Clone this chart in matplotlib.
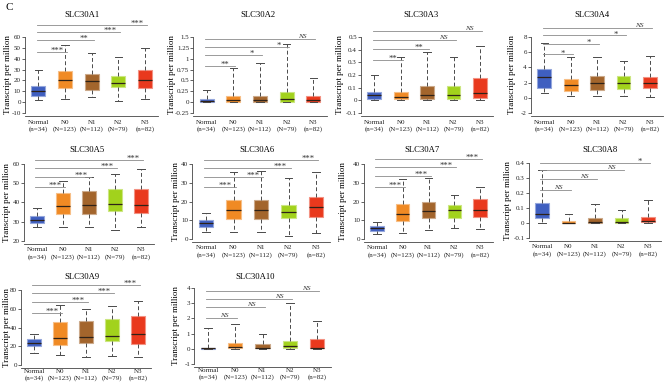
import matplotlib
matplotlib.use("Agg")
import matplotlib.pyplot as plt
from matplotlib.colors import to_rgb

plt.rcParams["font.family"] = ["Liberation Serif", "DejaVu Serif"]

W, H = 668, 385

groups = ["Normal", "N0", "N1", "N2", "N3"]
group_n = ["(n=34)", "(N=123)", "(N=112)", "(N=79)", "(n=82)"]
box_colors = ["#3f5fc0", "#f08a24", "#a3652c", "#a2d21c", "#e9391d"]

genes = ["SLC30A1", "SLC30A2", "SLC30A3", "SLC30A4", "SLC30A5",
         "SLC30A6", "SLC30A7", "SLC30A8", "SLC30A9", "SLC30A10"]

# (whisker low, q1, median, q3, whisker high) for Normal, N0, N1, N2, N3
a1_stats = [(2, 6, 10, 14.5, 30), (3, 13, 20.5, 28.5, 52.5), (4.5, 11.5, 19.5, 26, 45.5),
            (1.5, 13.5, 17.5, 24.5, 41.5), (2.5, 13, 20.5, 29.5, 50)]
a2_stats = [(0, 0.01, 0.02, 0.07, 0.29), (0, 0.01, 0.04, 0.15, 0.79), (0, 0.01, 0.06, 0.14, 0.9),
            (0, 0.01, 0.08, 0.23, 1.34), (0, 0.01, 0.04, 0.14, 0.56)]
a3_stats = [(0, 0.008, 0.045, 0.065, 0.2), (0, 0.01, 0.03, 0.065, 0.34), (0, 0.01, 0.045, 0.115, 0.38),
            (0, 0.01, 0.045, 0.115, 0.34), (0, 0.02, 0.06, 0.18, 0.43)]
a4_stats = [(0.6, 1.3, 2.8, 3.8, 7.2), (0.2, 0.9, 1.7, 2.5, 5.4), (0.2, 1.0, 1.9, 2.9, 5.4),
            (0.3, 1.1, 1.9, 2.9, 4.9), (0.1, 1.3, 2.0, 2.8, 5.5)]
a5_stats = [(27.2, 29.5, 30.7, 32.8, 37.2), (27.2, 34.2, 38.2, 45, 51), (27.2, 34.2, 38.6, 46, 53.4),
            (25.7, 35.8, 39, 47, 55), (27.4, 34.6, 38.6, 47, 57.5)]
a6_stats = [(4, 6.5, 8.3, 10.3, 14), (4, 10.5, 15.5, 21, 36), (3.5, 10.5, 15.6, 21, 36.5),
            (1.5, 11.2, 14.5, 18, 32.5), (3, 11.5, 17, 22.5, 35.5)]
a7_stats = [(2.8, 4.5, 5.8, 6.8, 9.3), (3, 9.5, 13.5, 18.5, 32), (5, 11, 15, 19.8, 32.8),
            (6, 11.2, 15.5, 18, 23.5), (5.3, 11.8, 15.5, 21.5, 28)]
a8_stats = [(0, 0.032, 0.06, 0.135, 0.355), (0, 0.0, 0.003, 0.012, 0.06), (0, 0.002, 0.01, 0.035, 0.125),
            (0, 0.002, 0.01, 0.033, 0.09), (0, 0.004, 0.012, 0.04, 0.155)]
a9_stats = [(13, 20.5, 23.5, 28, 33.5), (10.5, 21.3, 29, 46, 64), (9, 23, 29.8, 47, 60),
            (9.5, 25.5, 30.8, 49, 62.5), (8.2, 22.4, 33.5, 52, 68)]
a10_stats = [(0, 0, 0.02, 0.05, 1.4), (0, 0.02, 0.15, 0.4, 1.62), (0, 0.02, 0.08, 0.32, 0.96),
             (0, 0.02, 0.2, 0.52, 3.0), (0, 0.02, 0.08, 0.62, 1.82)]
all_stats = [a1_stats, a2_stats, a3_stats, a4_stats, a5_stats,
             a6_stats, a7_stats, a8_stats, a9_stats, a10_stats]

# significance brackets Normal vs N0..N3: height and label
sig_y = [[46, 57, 64.5, 71.5], [0.84, 1.08, 1.27, 1.45], [0.316, 0.408, 0.479, 0.545],
         [5.7, 7.1, 8.2, 9.2], [48.3, 53.4, 57.8, 62], [28, 33.3, 37.7, 42.1],
         [28, 33.6, 38.2, 42.7], [0.222, 0.296, 0.351, 0.4], [56, 67.5, 76.5, 85.3],
         [2.02, 2.74, 3.3, 3.82]]
sig_txt = [["***", "**", "***", "***"], ["**", "*", "*", "NS"], ["**", "**", "NS", "NS"],
           ["*", "*", "*", "NS"], ["***", "***", "***", "***"], ["***", "***", "***", "***"],
           ["***", "***", "***", "***"], ["NS", "NS", "NS", "*"], ["***", "***", "***", "***"],
           ["NS", "NS", "NS", "NS"]]

y_ticks = [[-10, 0, 10, 20, 30, 40, 50, 60], [-0.25, 0, 0.25, 0.5, 0.75, 1, 1.25, 1.5],
           [-0.1, 0, 0.1, 0.2, 0.3, 0.4, 0.5], [-2, 0, 2, 4, 6, 8], [20, 30, 40, 50, 60],
           [0, 10, 20, 30, 40], [0, 10, 20, 30, 40], [-0.1, 0, 0.1, 0.2, 0.3, 0.4],
           [0, 20, 40, 60, 80], [-1, 0, 1, 2, 3, 4]]

# layout in pixels: Normal centre x, N3 centre x, top tick y, bottom tick y
panel_px = [(38.3, 145, 37, 113), (206.7, 313.3, 37, 113), (374.3, 480, 37, 113), (544.3, 650, 37, 113),
            (37, 141, 164, 241), (206, 316, 164, 239), (377, 480, 164, 239), (542, 648, 163, 238),
            (34, 138, 290, 365), (208, 317, 288, 364)]
title_px = [(82, 15), (258, 15), (421, 15), (592, 15), (87, 150),
            (257, 150), (422, 150), (600, 150), (82, 277), (255, 277)]
ylabel_x = [8, 172, 340, 512, 7, 176, 343, 508, 7, 176]
xlabel_pad = [3, 3, 3, 3, 2.5, 2.5, 2.5, 2.5, 1, 1]


def lighten(c, f=0.45):
    r, g, b = to_rgb(c)
    return (r + (1 - r) * f, g + (1 - g) * f, b + (1 - b) * f)


def draw_panel(fig, i):
    nc, n3, top, bot = panel_px[i]
    ticks = y_ticks[i]
    sp = (n3 - nc) / 4
    left = nc - 0.5 * sp
    right = n3 + 0.5 * sp
    ppu = (bot - top) / (ticks[-1] - ticks[0])
    gap = 3
    ax = fig.add_axes([left / W, 1 - (bot + gap) / H, (right - left) / W, (bot + gap - top) / H])
    ax.set_xlim(-0.5, 4.5)
    ax.set_ylim(ticks[0] - gap / ppu, ticks[-1])

    stats = [dict(whislo=s[0], q1=s[1], med=s[2], q3=s[3], whishi=s[4], fliers=[])
             for s in all_stats[i]]
    bp = ax.bxp(stats, positions=range(5), widths=0.52, capwidths=0.28, patch_artist=True,
                showfliers=False,
                whiskerprops=dict(color="#4a4a4a", lw=0.7, linestyle=(0, (4, 2.5))),
                capprops=dict(color="#4a4a4a", lw=0.7),
                medianprops=dict(color="#2e2218", lw=0.9))
    for patch, c in zip(bp["boxes"], box_colors):
        patch.set_facecolor(c)
        patch.set_edgecolor(lighten(c))
        patch.set_linewidth(0.8)

    # significance lines
    for k, (yv, t) in enumerate(zip(sig_y[i], sig_txt[i])):
        tgt = k + 1
        ax.plot([-0.06, tgt + 0.08], [yv, yv], color="#8a8a8a", lw=0.6, clip_on=False)
        if t == "NS":
            ax.text(tgt - 0.4, yv, t, ha="center", va="bottom", fontsize=5.2,
                    color="#333333", style="italic")
        else:
            ax.text(tgt - 0.3, yv - 0.04 * (ticks[-1] - ticks[0]), t, ha="center",
                    va="bottom", fontsize=6.2, color="#333333")

    ax.set_yticks(ticks)
    ax.set_yticklabels([f"{v:g}" for v in ticks])
    ax.set_xticks(range(5))
    ax.set_xticklabels([f"{g}\n{n}" for g, n in zip(groups, group_n)], linespacing=1.3)
    ax.tick_params(axis="y", labelsize=5, length=2, width=0.5, pad=1, colors="#222222")
    ax.tick_params(axis="x", labelsize=5, length=0, pad=xlabel_pad[i], colors="#222222")
    for s in ["top", "right"]:
        ax.spines[s].set_visible(False)
    ax.spines["left"].set_bounds(ticks[0], ticks[-1])
    for s in ["left", "bottom"]:
        ax.spines[s].set_linewidth(0.6)
        ax.spines[s].set_color("#444444")

    tx, ty = title_px[i]
    fig.text(tx / W, 1 - ty / H, genes[i], ha="center", va="center", fontsize=6.2)
    fig.text(ylabel_x[i] / W, 1 - (top + bot) / 2 / H, "Transcript per million",
             rotation=90, ha="center", va="center", fontsize=6.5)
    return ax


def main():
    fig = plt.figure(figsize=(W / 100, H / 100), dpi=100)
    fig.text(5 / W, 1 - 7 / H, "C", ha="left", va="center", fontsize=8)
    for i in range(len(genes)):
        draw_panel(fig, i)
    fig.savefig("out.png", dpi=100)


if __name__ == "__main__":
    main()
